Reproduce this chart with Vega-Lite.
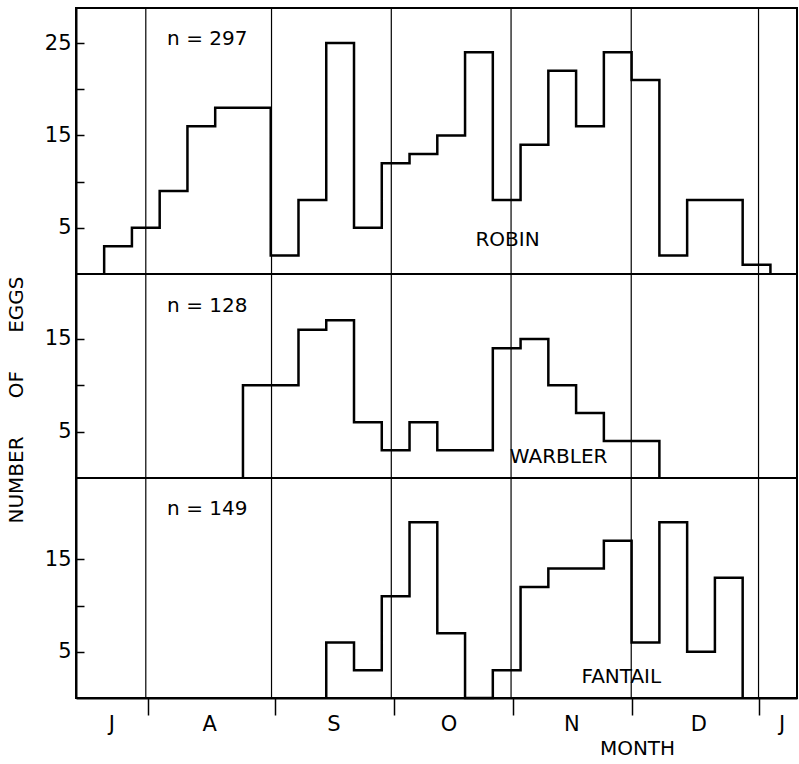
{
  "$schema": "https://vega.github.io/schema/vega-lite/v6.json",
  "background": "white",
  "padding": {"left": 5, "top": 6, "right": 0, "bottom": 0},
  "spacing": 0,
  "bounds": "flush",
  "config": {
    "font": "DejaVu Sans",
    "view": {"stroke": "black", "strokeWidth": 2},
    "axis": {"domainColor": "black", "domainWidth": 2, "tickColor": "black", "tickWidth": 1.5, "labelColor": "black", "titleColor": "black", "grid": false, "labelFontSize": 21, "titleFontSize": 20, "titleFontWeight": "normal"},
    "text": {"fontSize": 20, "color": "black"}
  },
  "datasets": {
    "months": [{"day": 31.5}, {"day": 63.2}, {"day": 93.4}, {"day": 123.6}, {"day": 153.9}, {"day": 186}],
    "robin": [
      {"day": 21, "eggs": 0}, {"day": 21, "eggs": 3}, {"day": 28, "eggs": 5}, {"day": 35, "eggs": 9}, {"day": 42, "eggs": 16},
      {"day": 49, "eggs": 18}, {"day": 56, "eggs": 18}, {"day": 63, "eggs": 2}, {"day": 70, "eggs": 8}, {"day": 77, "eggs": 25},
      {"day": 84, "eggs": 5}, {"day": 91, "eggs": 12}, {"day": 98, "eggs": 13}, {"day": 105, "eggs": 15}, {"day": 112, "eggs": 24},
      {"day": 119, "eggs": 8}, {"day": 126, "eggs": 14}, {"day": 133, "eggs": 22}, {"day": 140, "eggs": 16}, {"day": 147, "eggs": 24},
      {"day": 154, "eggs": 21}, {"day": 161, "eggs": 2}, {"day": 168, "eggs": 8}, {"day": 175, "eggs": 8}, {"day": 182, "eggs": 1},
      {"day": 189, "eggs": 0}
    ],
    "warbler": [
      {"day": 56, "eggs": 0}, {"day": 56, "eggs": 10}, {"day": 63, "eggs": 10}, {"day": 70, "eggs": 16}, {"day": 77, "eggs": 17},
      {"day": 84, "eggs": 6}, {"day": 91, "eggs": 3}, {"day": 98, "eggs": 6}, {"day": 105, "eggs": 3}, {"day": 112, "eggs": 3},
      {"day": 119, "eggs": 14}, {"day": 126, "eggs": 15}, {"day": 133, "eggs": 10}, {"day": 140, "eggs": 7}, {"day": 147, "eggs": 4},
      {"day": 154, "eggs": 4}, {"day": 161, "eggs": 0}
    ],
    "fantail": [
      {"day": 77, "eggs": 0}, {"day": 77, "eggs": 6}, {"day": 84, "eggs": 3}, {"day": 91, "eggs": 11}, {"day": 98, "eggs": 19},
      {"day": 105, "eggs": 7}, {"day": 112, "eggs": 0}, {"day": 119, "eggs": 3}, {"day": 126, "eggs": 12}, {"day": 133, "eggs": 14},
      {"day": 140, "eggs": 14}, {"day": 147, "eggs": 17}, {"day": 154, "eggs": 6}, {"day": 161, "eggs": 19}, {"day": 168, "eggs": 5},
      {"day": 175, "eggs": 13}, {"day": 182, "eggs": 0}
    ]
  },
  "vconcat": [
    {
      "width": 721, "height": 266,
      "layer": [
        {"data": {"name": "months"}, "mark": {"type": "rule", "color": "black", "strokeWidth": 1.2},
         "encoding": {"x": {"field": "day", "type": "quantitative", "scale": {"domain": [13.9, 195.7], "nice": false, "zero": false}, "axis": null}}},
        {"data": {"name": "robin"}, "mark": {"type": "line", "interpolate": "step-after", "color": "black", "strokeWidth": 2.5},
         "encoding": {
           "x": {"field": "day", "type": "quantitative", "scale": {"domain": [13.9, 195.7], "nice": false, "zero": false}, "axis": null},
           "y": {"field": "eggs", "type": "quantitative", "scale": {"domain": [0, 28.8], "nice": false}, "axis": {"title": null, "values": [5, 10, 15, 20, 25], "labelExpr": "datum.value % 10 == 5 ? datum.label : ''", "tickSize": -8, "labelPadding": 13, "labelOverlap": false}}
         }},
        {"data": {"values": [{"day": 47, "eggs": 25.4, "label": "n = 297"}, {"day": 122.7, "eggs": 3.7, "label": "ROBIN"}]},
         "mark": {"type": "text", "align": "center", "baseline": "middle"},
         "encoding": {
           "x": {"field": "day", "type": "quantitative", "scale": {"domain": [13.9, 195.7], "nice": false, "zero": false}},
           "y": {"field": "eggs", "type": "quantitative"},
           "text": {"field": "label"}
         }}
      ]
    },
    {
      "width": 721, "height": 204,
      "layer": [
        {"data": {"name": "months"}, "mark": {"type": "rule", "color": "black", "strokeWidth": 1.2},
         "encoding": {"x": {"field": "day", "type": "quantitative", "scale": {"domain": [13.9, 195.7], "nice": false, "zero": false}, "axis": null}}},
        {"data": {"name": "warbler"}, "mark": {"type": "line", "interpolate": "step-after", "color": "black", "strokeWidth": 2.5},
         "encoding": {
           "x": {"field": "day", "type": "quantitative", "scale": {"domain": [13.9, 195.7], "nice": false, "zero": false}, "axis": null},
           "y": {"field": "eggs", "type": "quantitative", "scale": {"domain": [0, 22], "nice": false}, "axis": {"title": "NUMBER\u00a0\u00a0\u00a0\u00a0\u00a0\u00a0OF\u00a0\u00a0\u00a0\u00a0\u00a0\u00a0EGGS", "titleX": -59.5, "titleY": 125.5, "titleAngle": 270, "titleAlign": "center", "titleBaseline": "middle", "values": [5, 10, 15], "labelExpr": "datum.value % 10 == 5 ? datum.label : ''", "tickSize": -8, "labelPadding": 13, "labelOverlap": false}}
         }},
        {"data": {"values": [{"day": 47, "eggs": 18.6, "label": "n = 128"}, {"day": 135.6, "eggs": 2.25, "label": "WARBLER"}]},
         "mark": {"type": "text", "align": "center", "baseline": "middle"},
         "encoding": {
           "x": {"field": "day", "type": "quantitative", "scale": {"domain": [13.9, 195.7], "nice": false, "zero": false}},
           "y": {"field": "eggs", "type": "quantitative"},
           "text": {"field": "label"}
         }}
      ]
    },
    {
      "width": 721, "height": 220,
      "layer": [
        {"data": {"name": "months"}, "mark": {"type": "rule", "color": "black", "strokeWidth": 1.2},
         "encoding": {"x": {"field": "day", "type": "quantitative", "scale": {"domain": [13.9, 195.7], "nice": false, "zero": false},
           "axis": {"title": "MONTH", "titleX": 561, "titleY": 50, "titleAlign": "center", "titleBaseline": "middle",
             "values": [22.8, 32, 47.5, 64, 78.8, 94, 107.8, 124, 138.8, 154, 170.8, 186, 191.8],
             "labelExpr": "datum.value % 1 == 0 ? '' : datum.value < 30 ? 'J' : datum.value < 60 ? 'A' : datum.value < 90 ? 'S' : datum.value < 120 ? 'O' : datum.value < 150 ? 'N' : datum.value < 180 ? 'D' : 'J'",
             "tickOpacity": {"condition": {"test": "datum.value % 1 == 0", "value": 1}, "value": 0},
             "tickSize": 17, "labelPadding": -2, "labelOverlap": false, "labelFlush": false, "labelBaseline": "top"}}}},
        {"data": {"name": "fantail"}, "mark": {"type": "line", "interpolate": "step-after", "color": "black", "strokeWidth": 2.5},
         "encoding": {
           "x": {"field": "day", "type": "quantitative", "scale": {"domain": [13.9, 195.7], "nice": false, "zero": false}},
           "y": {"field": "eggs", "type": "quantitative", "scale": {"domain": [0, 23.8], "nice": false}, "axis": {"title": null, "values": [5, 10, 15], "labelExpr": "datum.value % 10 == 5 ? datum.label : ''", "tickSize": -8, "labelPadding": 13, "labelOverlap": false}}
         }},
        {"data": {"values": [{"day": 47, "eggs": 20.5, "label": "n = 149"}, {"day": 151.4, "eggs": 2.3, "label": "FANTAIL"}]},
         "mark": {"type": "text", "align": "center", "baseline": "middle"},
         "encoding": {
           "x": {"field": "day", "type": "quantitative", "scale": {"domain": [13.9, 195.7], "nice": false, "zero": false}},
           "y": {"field": "eggs", "type": "quantitative"},
           "text": {"field": "label"}
         }}
      ]
    }
  ]
}
